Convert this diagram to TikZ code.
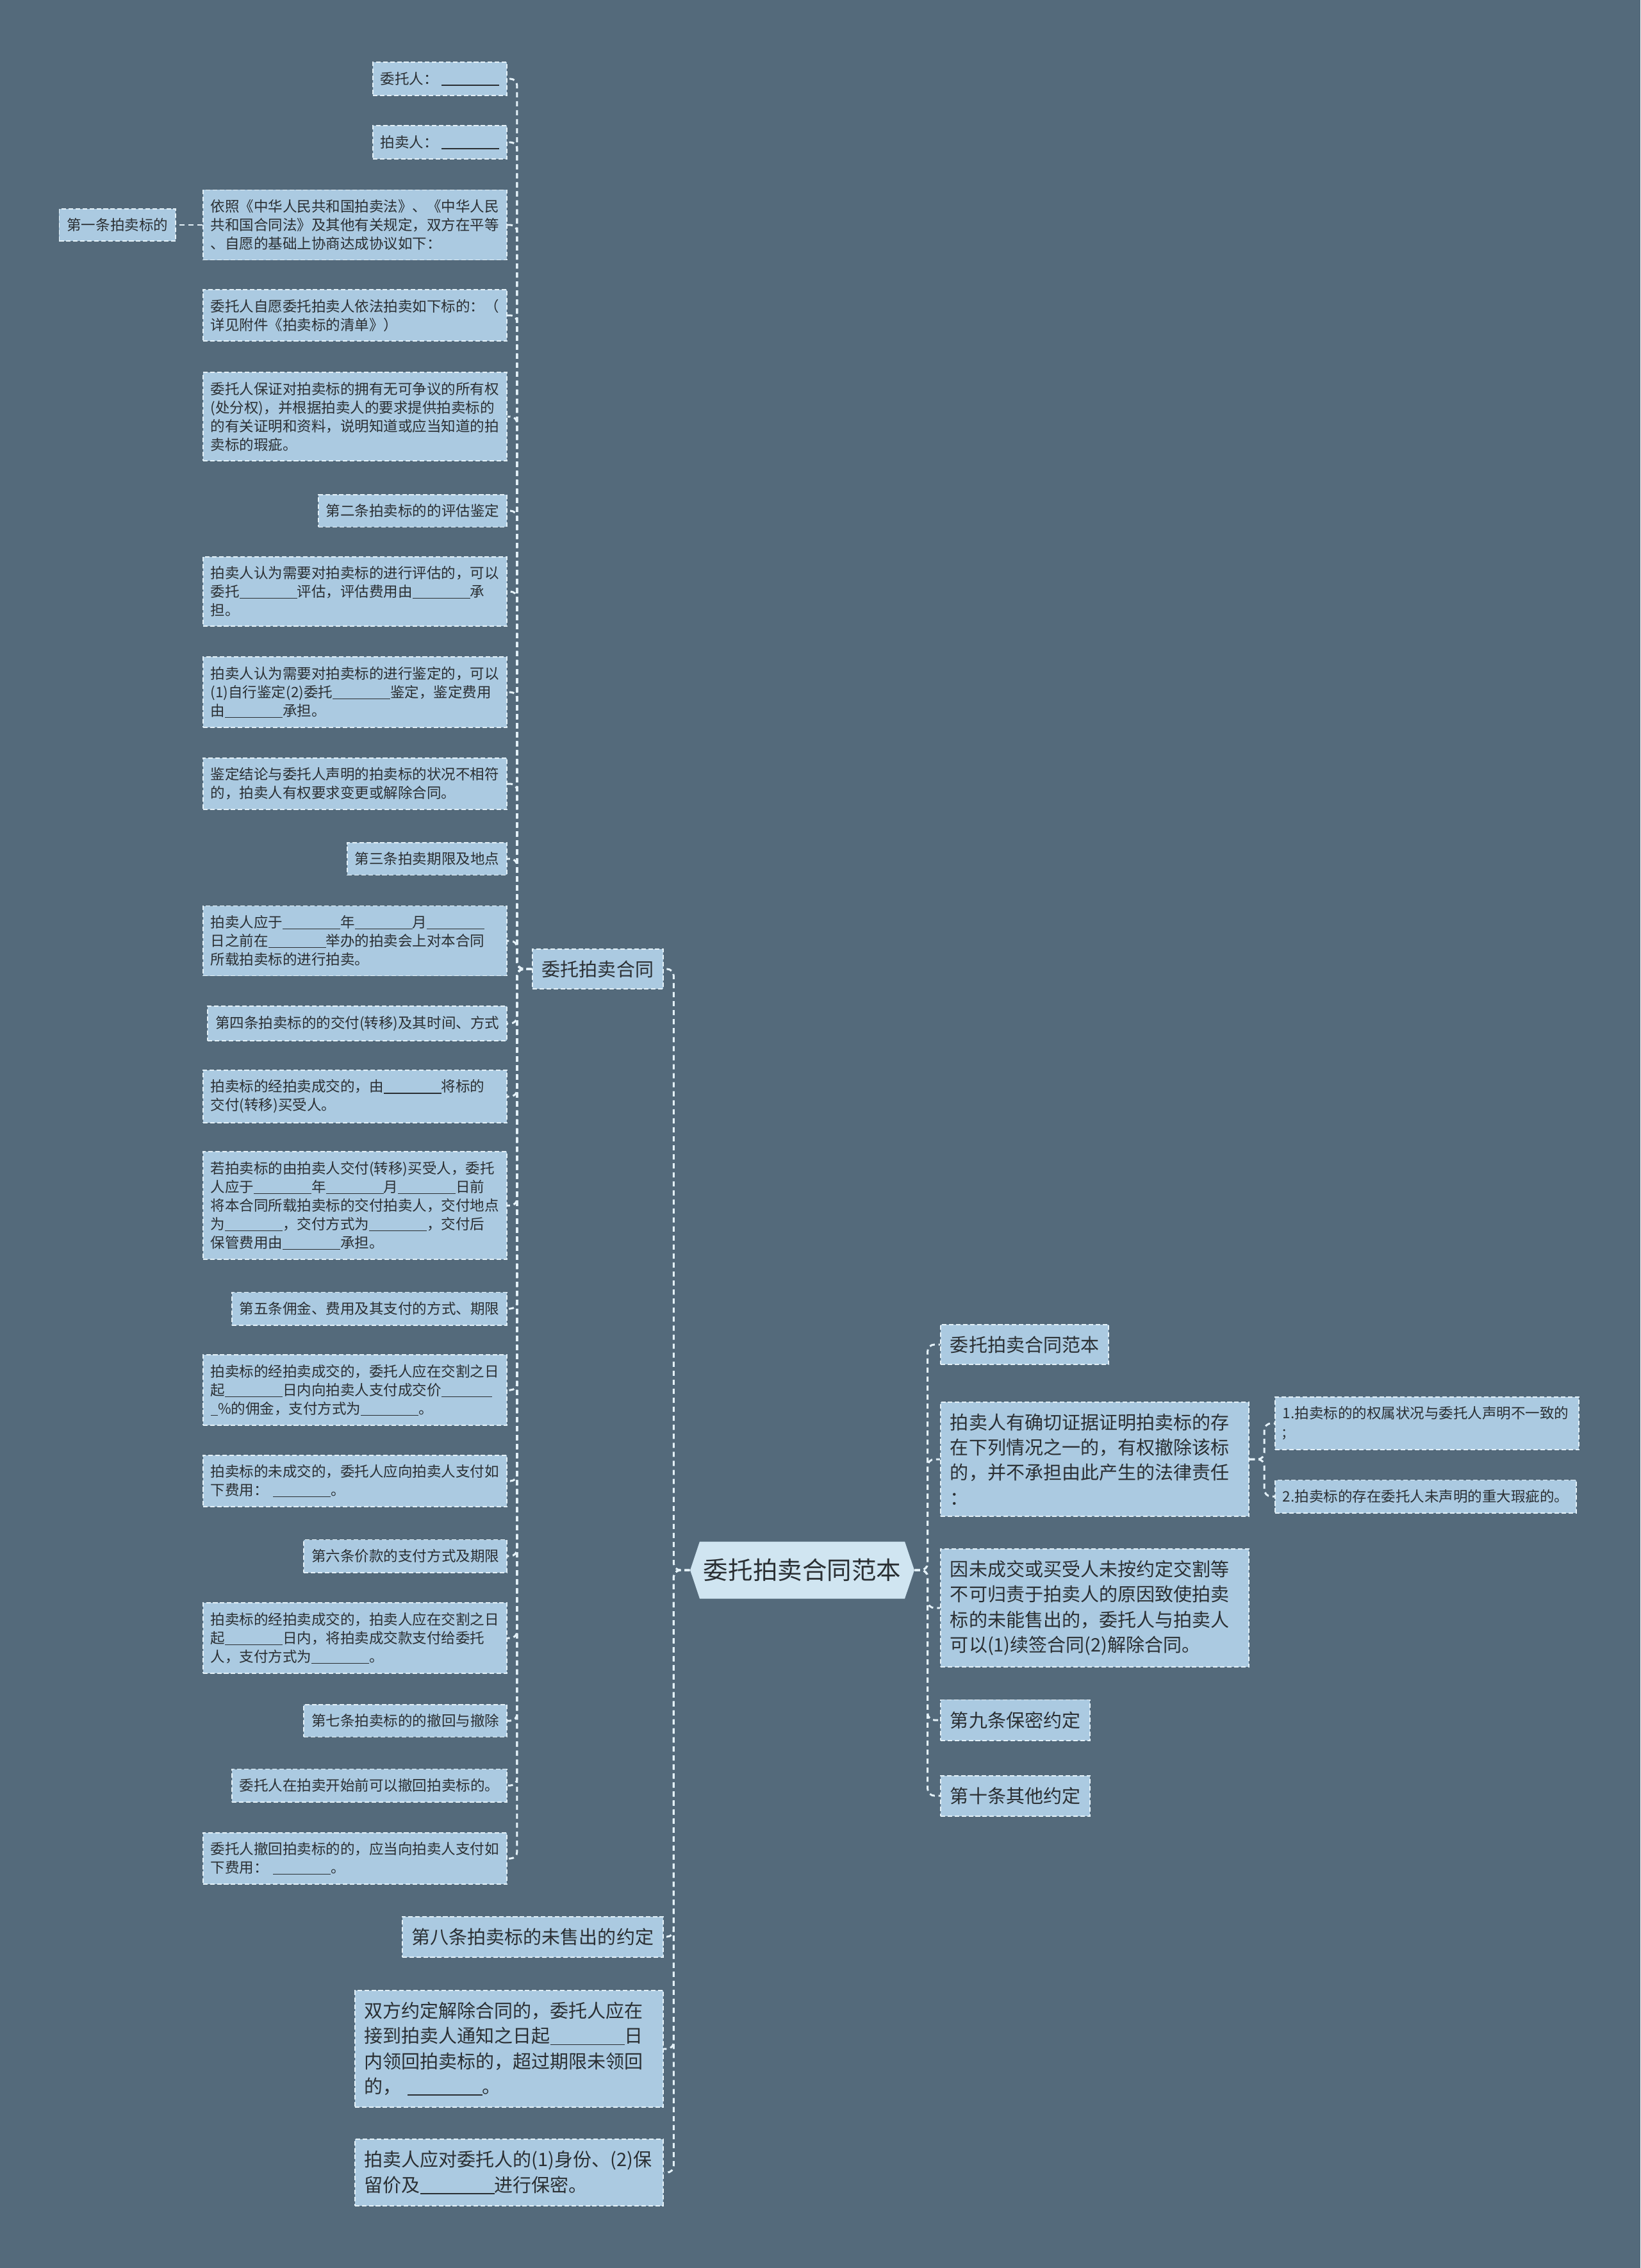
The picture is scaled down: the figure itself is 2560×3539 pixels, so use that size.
\documentclass[tikz,border=0pt]{standalone}
\usepackage{fontspec}
\setmainfont{Noto Sans CJK SC}
\usepackage{xcolor}
\usetikzlibrary{shapes.symbols}
\definecolor{canvas}{HTML}{546A7B}
\definecolor{leaffill}{HTML}{ABCAE1}
\definecolor{rootfill}{HTML}{D0E5F1}
\definecolor{edge}{HTML}{E4F1F8}
\definecolor{ink}{HTML}{2A2F33}
\newcommand{\blnk}[1][4em]{\rule[-0.12em]{#1}{0.06em}}

\begin{document}
\begin{tikzpicture}[x=0.01cm,y=-0.01cm,
    leafbox/.style={draw=edge,line width=0.55pt,dash pattern=on 2pt off 1.1pt,fill=leaffill,text=ink,
      font=\fontsize{6.4}{8.25}\selectfont,inner xsep=0.12cm,inner ysep=0.15cm},
    leafpar/.style={leafbox,text width=4.5cm,align=left},
    branchbox/.style={leafbox,font=\fontsize{8.25}{11.2}\selectfont,inner xsep=0.15cm,inner ysep=0.18cm},
    branchpar/.style={branchbox,text width=4.51cm,align=left},
    rootbox/.style={signal,signal to=east and west,signal pointer angle=143,fill=rootfill,text=ink,
      font=\fontsize{10.95}{13}\selectfont,minimum height=0.89cm,inner xsep=0.06cm},
    link/.style={draw=edge,line width=0.85pt,dash pattern=on 2.3pt off 1.7pt,rounded corners=3pt}]
  % canvas
  \fill[canvas] (0,0) rectangle (2560,3539);
  \useasboundingbox (0,0) rectangle (2560,3539);

  % root and its branches
  \node[rootbox] (root) at (1252,2450) {委托拍卖合同范本};
  \foreach \nm/\yy/\sty/\txt in {
    cl/1512/branchbox/{委托拍卖合同},
    b8/3022/branchbox/{第八条拍卖标的未售出的约定},
    b9/3197/branchpar/{双方约定解除合同的，委托人应在\\接到拍卖人通知之日起\blnk{}日\\内领回拍卖标的，超过期限未领回\\的，~\blnk{}。},
    b10/3390/branchpar/{拍卖人应对委托人的(1)身份、(2)保\\留价及\blnk{}进行保密。}%
  }{
    \node[\sty,anchor=east] (\nm) at (1036,\yy) {\txt};
  }
  \foreach \nm/\yy/\sty/\txt in {
    r1/2098/branchbox/{委托拍卖合同范本},
    r2/2277/branchpar/{拍卖人有确切证据证明拍卖标的存\\在下列情况之一的，有权撤除该标\\的，并不承担由此产生的法律责任\\：},
    r3/2509/branchpar/{因未成交或买受人未按约定交割等\\不可归责于拍卖人的原因致使拍卖\\标的未能售出的，委托人与拍卖人\\可以(1)续签合同(2)解除合同。},
    r4/2684/branchbox/{第九条保密约定},
    r5/2802/branchbox/{第十条其他约定}%
  }{
    \node[\sty,anchor=west] (\nm) at (1467,\yy) {\txt};
  }
  \node[leafpar,anchor=west] (s1) at (1989,2221) {1.拍卖标的的权属状况与委托人声明不一致的\\;};
  \node[leafbox,anchor=west] (s2) at (1989,2335) {2.拍卖标的存在委托人未声明的重大瑕疵的。};

  % leaves of 委托拍卖合同
  \foreach \nm/\yy/\sty/\txt in {
    l1/123/leafbox/{委托人：~\blnk{}},
    l2/222/leafbox/{拍卖人：~\blnk{}},
    l3/351/leafpar/{依照《中华人民共和国拍卖法》、《中华人民\\共和国合同法》及其他有关规定，双方在平等\\、自愿的基础上协商达成协议如下：},
    l4/492/leafpar/{委托人自愿委托拍卖人依法拍卖如下标的：（\\详见附件《拍卖标的清单》）},
    l5/650/leafpar/{委托人保证对拍卖标的拥有无可争议的所有权\\(处分权)，并根据拍卖人的要求提供拍卖标的\\的有关证明和资料，说明知道或应当知道的拍\\卖标的瑕疵。},
    l6/797/leafbox/{第二条拍卖标的的评估鉴定},
    l7/923/leafpar/{拍卖人认为需要对拍卖标的进行评估的，可以\\委托\blnk{}评估，评估费用由\blnk{}承\\担。},
    l8/1080/leafpar/{拍卖人认为需要对拍卖标的进行鉴定的，可以\\(1)自行鉴定(2)委托\blnk{}鉴定，鉴定费用\\由\blnk{}承担。},
    l9/1223/leafpar/{鉴定结论与委托人声明的拍卖标的状况不相符\\的，拍卖人有权要求变更或解除合同。},
    l10/1340/leafbox/{第三条拍卖期限及地点},
    l11/1468/leafpar/{拍卖人应于\blnk{}年\blnk{}月\blnk{}\\日之前在\blnk{}举办的拍卖会上对本合同\\所载拍卖标的进行拍卖。},
    l12/1597/leafbox/{第四条拍卖标的的交付(转移)及其时间、方式},
    l13/1711/leafpar/{拍卖标的经拍卖成交的，由\blnk{}将标的\\交付(转移)买受人。},
    l14/1881/leafpar/{若拍卖标的由拍卖人交付(转移)买受人，委托\\人应于\blnk{}年\blnk{}月\blnk{}日前\\将本合同所载拍卖标的交付拍卖人，交付地点\\为\blnk{}，交付方式为\blnk{}，交付后\\保管费用由\blnk{}承担。},
    l15/2042/leafbox/{第五条佣金、费用及其支付的方式、期限},
    l16/2169/leafpar/{拍卖标的经拍卖成交的，委托人应在交割之日\\起\blnk{}日内向拍卖人支付成交价\blnk[3.5em]\\\blnk[0.5em]\%的佣金，支付方式为\blnk{}。},
    l17/2311/leafpar/{拍卖标的未成交的，委托人应向拍卖人支付如\\下费用：~\blnk{}。},
    l18/2428/leafbox/{第六条价款的支付方式及期限},
    l19/2556/leafpar/{拍卖标的经拍卖成交的，拍卖人应在交割之日\\起\blnk{}日内，将拍卖成交款支付给委托\\人，支付方式为\blnk{}。},
    l20/2685/leafbox/{第七条拍卖标的的撤回与撤除},
    l21/2786/leafbox/{委托人在拍卖开始前可以撤回拍卖标的。},
    l22/2900/leafpar/{委托人撤回拍卖标的的，应当向拍卖人支付如\\下费用：~\blnk{}。}%
  }{
    \node[\sty,anchor=east] (\nm) at (792,\yy) {\txt};
  }
  \node[leafbox,anchor=east] (p1) at (275,351) {第一条拍卖标的};

  % connectors
  \foreach \c in {cl,b8,b9,b10}
    \draw[link] (root.west) -- ++(-25,0) |- (\c.east);
  \foreach \c in {r1,r2,r3,r4,r5}
    \draw[link] (root.east) -- ++(20,0) |- (\c.west);
  \foreach \c in {s1,s2}
    \draw[link] (r2.east) -- ++(23,0) |- (\c.west);
  \foreach \i in {1,...,22}
    \draw[link] (cl.west) -- ++(-23,0) |- (l\i.east);
  \draw[link] (l3.west) -- (p1.east);
\end{tikzpicture}
\end{document}
